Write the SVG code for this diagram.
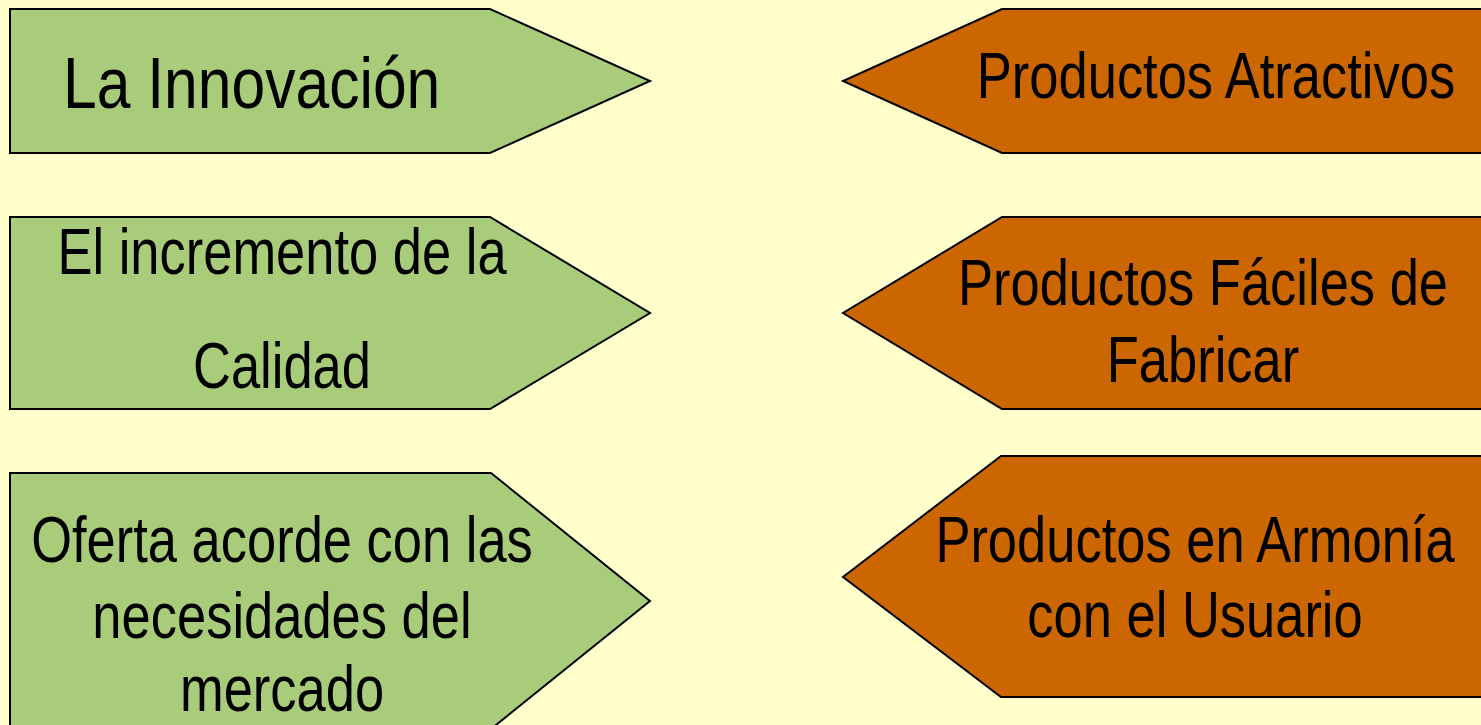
<svg xmlns="http://www.w3.org/2000/svg" width="1481" height="725" viewBox="0 0 1481 725">
<style>
.g{fill:#A9CC7A;stroke:#000;stroke-width:2}
.o{fill:#CC6600;stroke:#000;stroke-width:2}
text{font-family:"Liberation Sans",Arial,sans-serif;font-size:64px;fill:#000;text-anchor:middle}
</style>
<rect x="0" y="0" width="1481" height="725" fill="#FFFFCC"/>
<g id="n1"><polygon class="g" points="10,9 490,9 650,81 490,153 10,153"/><text transform="translate(63,108) scale(0.83,1)" style="font-size:73px;text-anchor:start">La Innovación</text></g>
<g id="n2"><polygon class="g" points="10,217 490,217 650,313 490,409 10,409"/><text transform="translate(282,274) scale(0.82,1)">El incremento de la</text><text transform="translate(282,388) scale(0.82,1)">Calidad</text></g>
<g id="n3"><polygon class="g" points="10,473 491,473 650,601 491,729 10,729"/><text transform="translate(282,562) scale(0.82,1)">Oferta acorde con las</text><text transform="translate(282,638) scale(0.82,1)">necesidades del</text><text transform="translate(282,711) scale(0.82,1)">mercado</text></g>
<g id="n4"><polygon class="o" points="1490,9 1002,9 843,81 1002,153 1490,153"/><text transform="translate(1216,98) scale(0.82,1)">Productos Atractivos</text></g>
<g id="n5"><polygon class="o" points="1490,217 1002,217 843,313 1002,409 1490,409"/><text transform="translate(1203,305) scale(0.82,1)">Productos Fáciles de</text><text transform="translate(1203,382) scale(0.82,1)">Fabricar</text></g>
<g id="n6"><polygon class="o" points="1490,456 1001,456 843,577 1001,697 1490,697"/><text transform="translate(1195,562) scale(0.82,1)">Productos en Armonía</text><text transform="translate(1195,637) scale(0.82,1)">con el Usuario</text></g>
<g id="connectors"/>
</svg>
